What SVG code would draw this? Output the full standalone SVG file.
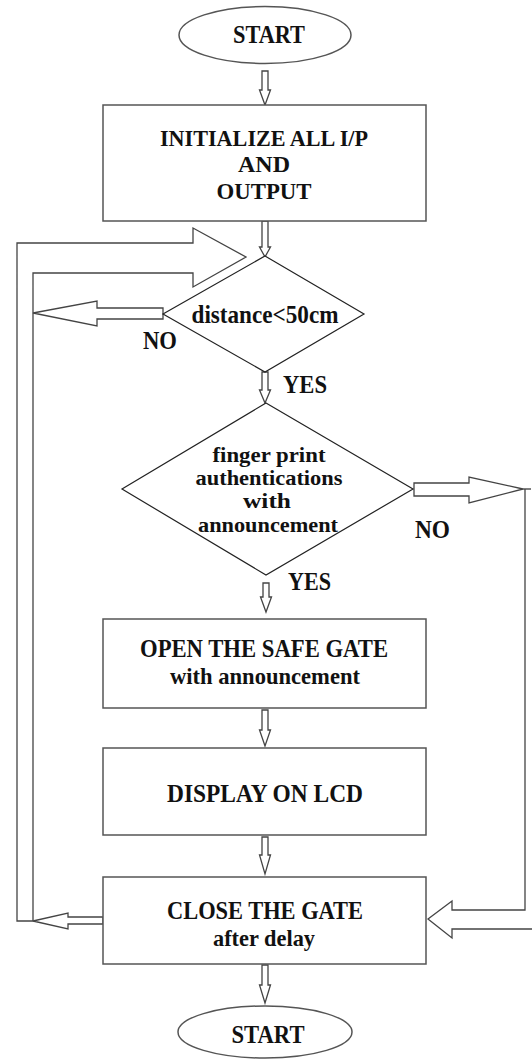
<svg xmlns="http://www.w3.org/2000/svg" width="532" height="1060" viewBox="0 0 532 1060">
<style>
.bg{fill:#fff}
.shape{fill:#fff;stroke:#555;stroke-width:1.5}
.dia{fill:#fff;stroke:#222;stroke-width:1.2}
.arr{fill:#fff;stroke:#444;stroke-width:1.3;stroke-linejoin:miter}
.ln{fill:none;stroke:#555;stroke-width:1.5}
text{font-family:"Liberation Serif","Times New Roman",serif;font-weight:bold;fill:#111;text-anchor:middle}
.t24{font-size:26px}
.t23{font-size:23px}
.tfp{font-size:21px}
.lbl{font-size:25px;text-anchor:start}
</style>
<rect class="bg" x="0" y="0" width="532" height="1060"/>

<g id="connectors">
  <polygon class="arr" points="262,71 268,71 268,90 270.5,90 265,105 259.5,90 262,90"/>
  <polygon class="arr" points="262,221 268,221 268,247 270.5,247 265,257 259.5,247 262,247"/>
  <polygon class="arr" points="262,372 268,372 268,390 270.5,390 265,403 259.5,390 262,390"/>
  <polygon class="arr" points="263,583 269,583 269,597 271.5,597 266,612 260.5,597 263,597"/>
  <polygon class="arr" points="262,710 268,710 268,730 270.5,730 265,746 259.5,730 262,730"/>
  <polygon class="arr" points="262,837 268,837 268,855 270.5,855 265,874 259.5,855 262,855"/>
  <polygon class="arr" points="262,965 268,965 268,985 270.5,985 265,1003 259.5,985 262,985"/>
  <polygon class="arr" points="33,921 17,921 17,243 193,243 193,228 246,257 193,287 193,273 33,273"/>
  <polygon class="arr" points="163,308 97,308 97,301 33,313 97,326 97,319 163,319"/>
  <polygon class="arr" points="103,917 68,917 68,913 33,921 68,929 68,924 103,924"/>
  <polygon class="arr" points="414,483 469,483 469,477 523,489 469,503 469,496 414,496"/>
  <line class="ln" x1="523" y1="489" x2="531" y2="489"/>
  <polyline class="arr" points="525,489 525,910 452,910 452,901 428,919 452,938 452,929 532,929"/>
</g>

<g id="start">
  <ellipse class="shape" cx="265" cy="35" rx="86" ry="28.5"/>
  <text class="t24" x="269" y="43" textLength="72" lengthAdjust="spacingAndGlyphs">START</text>
</g>

<g id="init">
  <rect class="shape" x="103" y="105" width="323" height="116"/>
  <text class="t23" x="264" y="146" textLength="208" lengthAdjust="spacingAndGlyphs">INITIALIZE ALL I/P</text>
  <text class="t23" x="264" y="172" textLength="52" lengthAdjust="spacingAndGlyphs">AND</text>
  <text class="t23" x="264" y="199" textLength="95" lengthAdjust="spacingAndGlyphs">OUTPUT</text>
</g>

<g id="distance">
  <polygon class="dia" points="265,256 364,314 265,372 163,314"/>
  <text class="t24" x="265" y="323" textLength="147" lengthAdjust="spacingAndGlyphs">distance&lt;50cm</text>
  <text class="lbl" x="143" y="349" textLength="34" lengthAdjust="spacingAndGlyphs">NO</text>
  <text class="lbl" x="283" y="393" textLength="44" lengthAdjust="spacingAndGlyphs">YES</text>
</g>

<g id="fingerprint">
  <polygon class="dia" points="266,403 413,489 266,575 122,489"/>
  <text class="tfp" x="269" y="462" textLength="113" lengthAdjust="spacingAndGlyphs">finger print</text>
  <text class="tfp" x="269" y="485" textLength="147" lengthAdjust="spacingAndGlyphs">authentications</text>
  <text class="tfp" x="267" y="508" textLength="48" lengthAdjust="spacingAndGlyphs">with</text>
  <text class="tfp" x="268" y="532" textLength="140" lengthAdjust="spacingAndGlyphs">announcement</text>
  <text class="lbl" x="415" y="538" textLength="35" lengthAdjust="spacingAndGlyphs">NO</text>
  <text class="lbl" x="288" y="590" textLength="43" lengthAdjust="spacingAndGlyphs">YES</text>
</g>

<g id="open">
  <rect class="shape" x="103" y="619" width="323" height="89"/>
  <text class="t24" x="264" y="657" textLength="248" lengthAdjust="spacingAndGlyphs">OPEN THE SAFE GATE</text>
  <text class="t23" x="265" y="684" textLength="190" lengthAdjust="spacingAndGlyphs">with announcement</text>
</g>

<g id="display">
  <rect class="shape" x="103" y="748" width="323" height="87"/>
  <text class="t24" x="265" y="802" textLength="196" lengthAdjust="spacingAndGlyphs">DISPLAY ON LCD</text>
</g>

<g id="close">
  <rect class="shape" x="103" y="877" width="323" height="87"/>
  <text class="t24" x="265" y="919" textLength="196" lengthAdjust="spacingAndGlyphs">CLOSE THE GATE</text>
  <text class="t23" x="264" y="946" textLength="102" lengthAdjust="spacingAndGlyphs">after delay</text>
</g>

<g id="end">
  <ellipse class="shape" cx="265" cy="1032" rx="87" ry="26"/>
  <text class="t24" x="268" y="1043" textLength="73" lengthAdjust="spacingAndGlyphs">START</text>
</g>
</svg>
